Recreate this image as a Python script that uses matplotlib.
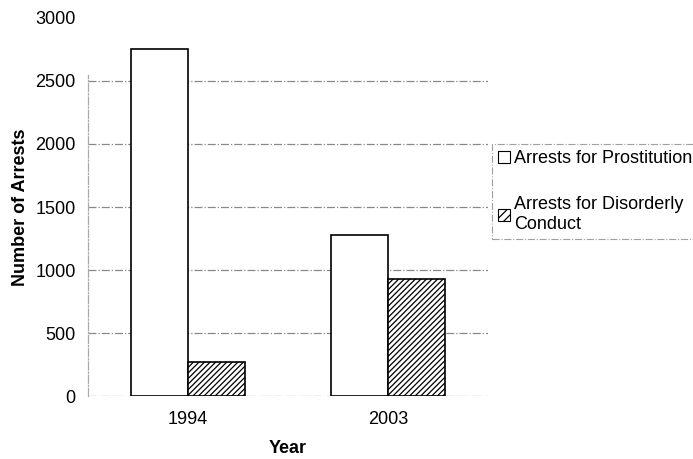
import numpy as np
import matplotlib.pyplot as plt
from matplotlib.patches import Patch


# -----------------------------
# DATA
# -----------------------------

years = ["1994", "2003"]

prostitution = [2750, 1280]

disorderly = [270, 930]

y_ticks = [0, 500, 1000, 1500, 2000, 2500, 3000]


# -----------------------------
# FIGURE
# -----------------------------

plt.rcParams["font.family"] = ["Liberation Sans", "DejaVu Sans"]
plt.rcParams["hatch.linewidth"] = 0.9

fig = plt.figure(figsize=(6.93, 4.59), dpi=100)

ax = fig.add_axes([0.127, 0.137, 0.577, 0.824])

x = np.arange(len(years))
width = 0.285

ax.bar(
    x - width / 2,
    prostitution,
    width,
    color="white",
    edgecolor="black",
    linewidth=1.2,
    zorder=3
)

ax.bar(
    x + width / 2,
    disorderly,
    width,
    color="white",
    edgecolor="black",
    hatch="//////",
    linewidth=1.2,
    zorder=3
)

ax.set_xlim(-0.5, 1.5)
ax.set_ylim(0, 3000)

ax.set_xticks(x)
ax.set_xticklabels(years, fontsize=13)

ax.set_yticks(y_ticks)
ax.set_yticklabels([str(t) for t in y_ticks], fontsize=13)

ax.tick_params(axis="y", length=0, pad=9)
ax.tick_params(axis="x", length=0, pad=11)

# gridlines below 3000 only
for t in y_ticks[:-1]:
    ax.axhline(t, color="#888888", linestyle="-.", linewidth=0.9, zorder=0)

for side in ["top", "right", "bottom"]:
    ax.spines[side].set_visible(False)

ax.spines["left"].set_color("#aaaaaa")
ax.spines["left"].set_linestyle("-.")
ax.spines["left"].set_linewidth(0.9)
ax.spines["left"].set_bounds(0, 2550)

ax.set_xlabel("Year", fontsize=13, fontweight="bold", labelpad=8)
ax.set_ylabel("Number of Arrests", fontsize=13, fontweight="bold", labelpad=4.5)


# -----------------------------
# LEGEND
# -----------------------------

handles = [
    Patch(facecolor="white", edgecolor="black", linewidth=0.8),
    Patch(facecolor="white", edgecolor="black", hatch="////", linewidth=0.8),
]

leg = fig.legend(
    handles,
    ["Arrests for Prostitution", "Arrests for Disorderly\nConduct"],
    loc="upper left",
    bbox_to_anchor=(492 / 693, 1 - 144 / 459),
    fontsize=13,
    frameon=True,
    fancybox=False,
    handlelength=0.65,
    handleheight=0.65,
    handletextpad=0.2,
    labelspacing=1.6,
    borderpad=0.35,
    borderaxespad=0
)

leg.get_frame().set_edgecolor("#888888")
leg.get_frame().set_linestyle("-.")
leg.get_frame().set_linewidth(0.8)

fig.savefig("out.png", dpi=100)
